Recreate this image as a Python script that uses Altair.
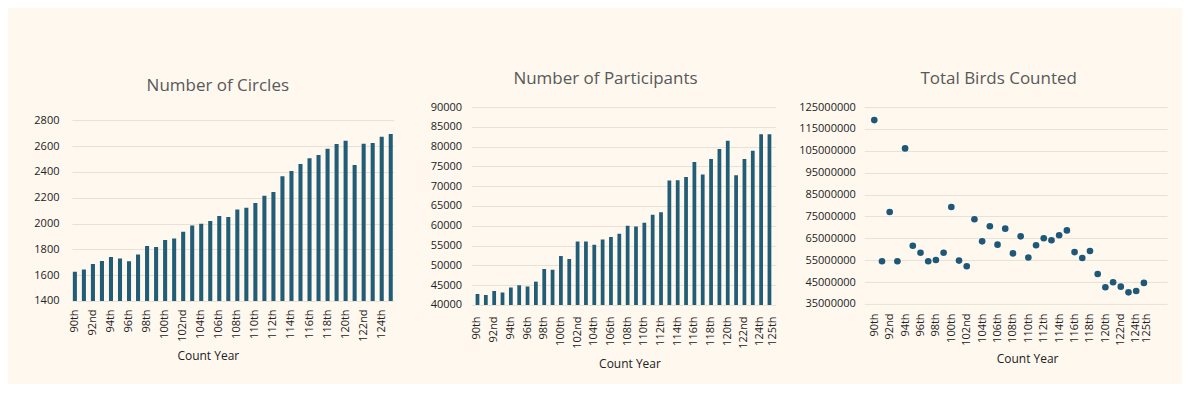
import altair as alt
import pandas as pd

years = ["90th", "91st", "92nd", "93rd", "94th", "95th", "96th", "97th", "98th", "99th",
         "100th", "101st", "102nd", "103rd", "104th", "105th", "106th", "107th", "108th", "109th",
         "110th", "111th", "112th", "113th", "114th", "115th", "116th", "117th", "118th", "119th",
         "120th", "121st", "122nd", "123rd", "124th", "125th"]

circles = [1627, 1643, 1687, 1710, 1741, 1728, 1707, 1759, 1826, 1818,
           1873, 1883, 1937, 1984, 1999, 2020, 2059, 2051, 2108, 2123,
           2159, 2216, 2245, 2366, 2407, 2462, 2506, 2531, 2580, 2617,
           2642, 2454, 2619, 2624, 2673, 2694]

participants = [42773, 42521, 43529, 43109, 44370, 44958, 44622, 45882, 49076, 48908,
                52353, 51597, 56050, 56050, 55210, 56555, 57143, 57983, 60000, 59832,
                60756, 62773, 63445, 71429, 71513, 72353, 76134, 72941, 76891, 79412,
                81513, 72773, 76891, 78992, 83109, 83109]

birds = [119060000, 54500000, 77000000, 54500000, 106100000, 61600000, 58400000, 54500000, 55100000, 58400000,
         79300000, 54800000, 52200000, 73700000, 63600000, 70500000, 62100000, 69400000, 58100000, 65900000,
         56200000, 61800000, 65000000, 64100000, 66400000, 68600000, 58700000, 56000000, 59200000, 48700000,
         42600000, 44900000, 42900000, 40300000, 40900000, 44600000]

labels_circles = ["90th", "92nd", "94th", "96th", "98th", "100th", "102nd", "104th", "106th",
                  "108th", "110th", "112th", "114th", "116th", "118th", "120th", "122nd", "124th"]
labels_other = labels_circles + ["125th"]

ticks_circles = [1400, 1600, 1800, 2000, 2200, 2400, 2600, 2800]
ticks_participants = [40000, 45000, 50000, 55000, 60000, 65000, 70000, 75000, 80000, 85000, 90000]
ticks_birds = [35000000, 45000000, 55000000, 65000000, 75000000, 85000000,
               95000000, 105000000, 115000000, 125000000]

# empty slots at the right end of the scatter's category axis (no data there)
scatter_spacers = ["·1", "·2", "·3"]

df = pd.DataFrame({"year": years, "circles": circles,
                   "participants": participants, "birds": birds})

FONT = "Open Sans"
BAR = "#215D77"
GRID = "#E7E1D6"
LABEL = "#222222"


def title(text, dx, offset):
    return alt.TitleParams(text=text, fontSize=17, color="#595959", font=FONT,
                           fontWeight="normal", anchor="middle", frame="group",
                           baseline="alphabetic", dx=dx, offset=offset)


def xaxis(values, pad, tx, ty, shift_last=0, shift_prev=0):
    return alt.Axis(values=values, labelAngle=270, labelAlign="right", labelBaseline="middle",
                    labelOverlap=False, labelPadding=pad, labelFont=FONT, labelFontSize=11,
                    labelColor=LABEL, ticks=False, domain=False, grid=False,
                    labelOffset={"condition": [
                        {"test": "datum.label == '125th'", "value": shift_last},
                        {"test": "datum.label == '124th'", "value": shift_prev}],
                        "value": 0},
                    title="Count Year", titleFont=FONT, titleFontSize=12, titleFontWeight="normal",
                    titleColor=LABEL, titleX=tx, titleY=ty, titleBaseline="middle",
                    titleAlign="center")


def yaxis(values, pad):
    return alt.Axis(values=values, format="d", grid=True, gridColor=GRID, gridWidth=1,
                    domain=False, ticks=False, labelPadding=pad, labelFont=FONT,
                    labelFontSize=11, labelColor=LABEL, title=None)


p1 = alt.Chart(df).mark_bar(color=BAR, clip=True).encode(
    x=alt.X("year:N", sort=years, scale=alt.Scale(paddingInner=0.55, paddingOuter=0.1),
            axis=xaxis(labels_circles, 8, 136, 55)),
    y=alt.Y("circles:Q", scale=alt.Scale(domain=[1400, 2903], zero=False, nice=False),
            axis=yaxis(ticks_circles, 13)),
).properties(width=322, height=194, title=title("Number of Circles", -15, -1))

p2 = alt.Chart(df).mark_bar(color=BAR, clip=True).encode(
    x=alt.X("year:N", sort=years, scale=alt.Scale(paddingInner=0.55, paddingOuter=0.48),
            axis=xaxis(labels_other, 11, 158, 59, 4, -1.5)),
    y=alt.Y("participants:Q", scale=alt.Scale(domain=[40000, 90000], zero=False, nice=False),
            axis=yaxis(ticks_participants, 10)),
).properties(width=304, height=198, title=title("Number of Participants", -18, 0))

p3 = alt.Chart(df).mark_circle(color="#1E5878", size=44, opacity=1).encode(
    x=alt.X("year:N", sort=years,
            scale=alt.Scale(type="point", domain=years + scatter_spacers, padding=0.65, align=1),
            axis=xaxis(labels_other, 9, 163, 55, 3, -1)),
    y=alt.Y("birds:Q", scale=alt.Scale(domain=[35000000, 125000000], zero=False, nice=False),
            axis=yaxis(ticks_birds, 9)),
).properties(width=303, height=197, title=title("Total Birds Counted", -17, 0))

right = alt.hconcat(p2, p3, spacing=89, bounds="flush")
chart = alt.hconcat(p1, right, spacing=78, bounds="flush").properties(
    background="#FEF8EF",
    padding={"left": 25, "top": 62, "right": 15, "bottom": 14},
).configure_view(stroke=None)

chart.save("out.html", embed_options={"renderer": "svg", "actions": False})
